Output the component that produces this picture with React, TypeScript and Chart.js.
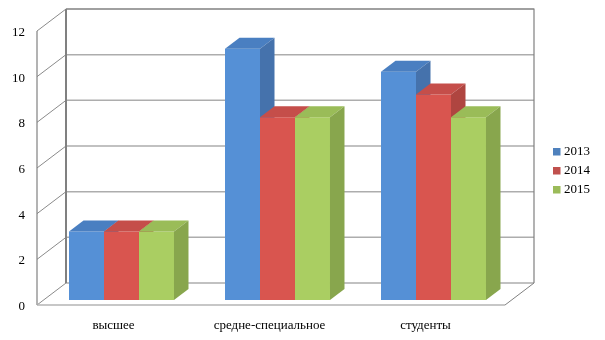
import React, { useEffect, useRef } from 'react';
import { Chart, registerables } from 'chart.js';

Chart.register(...registerables);

const categories = ['высшее', 'средне-специальное', 'студенты'];
const seriesLabels = ['2013', '2014', '2015'];
const values2013 = [3, 11, 10];
const values2014 = [3, 8, 9];
const values2015 = [3, 8, 8];
const yMin = 0;
const yMax = 12;
const yStep = 2;

const frontColors = ['#5590D6', '#D9554F', '#AACE62'];
const topColors = ['#4A7FC1', '#C54E4A', '#9ABC58'];
const sideColors = ['#4572AC', '#AF4540', '#88A64D'];
const legendColors = ['#4F81BD', '#C0504D', '#9BBB59'];

const FONT = "'Liberation Serif', 'Times New Roman', serif";
const DX = 29;
const DY = -22;
const SHIFT_X = 6.5;
const SHIFT_Y = -5;
const BAR_DX = 14.5;
const BAR_DY = -11;

const threeD = {
  id: 'threeD',
  beforeDatasetsDraw(chart: any) {
    const { ctx, chartArea } = chart;
    const y = chart.scales.y;
    const left = chartArea.left;
    const right = chartArea.right;
    const bottom = y.getPixelForValue(yMin);
    const top = y.getPixelForValue(yMax);
    ctx.save();
    y.ticks.forEach((t: any) => {
      const yf = y.getPixelForValue(t.value);
      ctx.strokeStyle = '#adadad';
      ctx.lineWidth = 1.5;
      ctx.beginPath();
      ctx.moveTo(left + DX, yf + DY);
      ctx.lineTo(right + DX, yf + DY);
      ctx.stroke();
      ctx.strokeStyle = '#8a8a8a';
      ctx.lineWidth = 1;
      ctx.beginPath();
      ctx.moveTo(left, yf);
      ctx.lineTo(left + DX, yf + DY);
      ctx.stroke();
    });
    ctx.strokeStyle = '#808080';
    ctx.lineWidth = 1.2;
    ctx.beginPath();
    ctx.moveTo(left + DX, top + DY);
    ctx.lineTo(right + DX, top + DY);
    ctx.lineTo(right + DX, bottom + DY);
    ctx.stroke();
    ctx.beginPath();
    ctx.moveTo(left, top);
    ctx.lineTo(left, bottom);
    ctx.stroke();
    ctx.lineWidth = 2;
    ctx.beginPath();
    ctx.moveTo(left + DX, top + DY);
    ctx.lineTo(left + DX, bottom + DY);
    ctx.stroke();
    ctx.strokeStyle = '#b4b4b4';
    ctx.lineWidth = 1.5;
    ctx.beginPath();
    ctx.moveTo(left, bottom);
    ctx.lineTo(right, bottom);
    ctx.stroke();
    ctx.strokeStyle = '#808080';
    ctx.lineWidth = 1;
    ctx.beginPath();
    ctx.moveTo(right, bottom);
    ctx.lineTo(right + DX, bottom + DY);
    ctx.stroke();
    ctx.restore();
  },
  beforeDatasetDraw() {
    // datasets are painted in index order in afterDatasetsDraw
    return false;
  },
  afterDatasetsDraw(chart: any) {
    const ctx = chart.ctx;
    const n = chart.data.datasets.length;
    for (let i = 0; i < n; i++) {
      const meta = chart.getDatasetMeta(i);
      if (!meta.visible) continue;
      ctx.save();
      ctx.translate(SHIFT_X, SHIFT_Y);
      meta.controller.draw();
      meta.data.forEach((bar: any) => {
        const { x, y, base, width } = bar.getProps(['x', 'y', 'base', 'width'], true);
        const x0 = x - width / 2;
        const x1 = x + width / 2;
        ctx.fillStyle = topColors[i];
        ctx.beginPath();
        ctx.moveTo(x0, y);
        ctx.lineTo(x1, y);
        ctx.lineTo(x1 + BAR_DX, y + BAR_DY);
        ctx.lineTo(x0 + BAR_DX, y + BAR_DY);
        ctx.closePath();
        ctx.fill();
        ctx.fillStyle = sideColors[i];
        ctx.beginPath();
        ctx.moveTo(x1, y);
        ctx.lineTo(x1 + BAR_DX, y + BAR_DY);
        ctx.lineTo(x1 + BAR_DX, base + BAR_DY);
        ctx.lineTo(x1, base);
        ctx.closePath();
        ctx.fill();
      });
      ctx.restore();
    }
  },
  afterDraw(chart: any) {
    const ctx = chart.ctx;
    ctx.save();
    ctx.font = `13px ${FONT}`;
    ctx.textBaseline = 'middle';
    ctx.textAlign = 'left';
    chart.data.datasets.forEach((ds: any, i: number) => {
      const cy = 151.5 + i * 19;
      ctx.fillStyle = legendColors[i];
      ctx.fillRect(553, cy - 3.5, 7.5, 7.5);
      ctx.fillStyle = '#000';
      ctx.fillText(ds.label, 564, cy + 0.5);
    });
    ctx.restore();
  },
};

export default function App() {
  const ref = useRef<HTMLCanvasElement>(null);
  useEffect(() => {
    if (!ref.current) return;
    const allValues = [values2013, values2014, values2015];
    const chart = new Chart(ref.current, {
      type: 'bar',
      data: {
        labels: categories,
        datasets: allValues.map((vals, i) => ({
          label: seriesLabels[i],
          data: vals,
          backgroundColor: frontColors[i],
          borderWidth: 0,
          categoryPercentage: 0.673,
          barPercentage: 1,
        })),
      },
      options: {
        responsive: false,
        animation: false,
        devicePixelRatio: 1,
        layout: { padding: { top: 31, right: 100, left: 0, bottom: 0 } },
        plugins: {
          legend: { display: false },
          tooltip: { enabled: false },
        },
        scales: {
          x: {
            grid: { display: false, drawTicks: false, tickLength: 0 },
            border: { display: false },
            ticks: { color: '#000', font: { family: FONT, size: 13 }, padding: 13, maxRotation: 0, labelOffset: -1.5 },
            afterFit(scale: any) { scale.height = 35; },
          },
          y: {
            min: yMin,
            max: yMax,
            grid: { display: false, drawTicks: false, tickLength: 0 },
            border: { display: false },
            ticks: { stepSize: yStep, color: '#000', font: { family: FONT, size: 13 }, padding: 12, labelOffset: 1.5 },
            afterFit(scale: any) { scale.width = 37; },
          },
        },
      },
      plugins: [threeD],
    });
    return () => chart.destroy();
  }, []);
  return (
    <div style={{ position: 'fixed', left: 0, top: 0, width: 605, height: 340, background: '#fff' }}>
      <canvas ref={ref} width={605} height={340} />
    </div>
  );
}
